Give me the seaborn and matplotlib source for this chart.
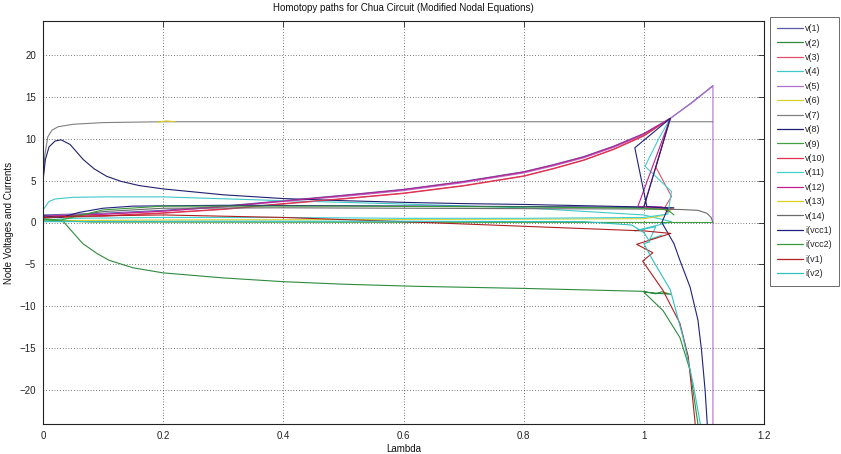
import numpy as np
import pandas as pd
import matplotlib
matplotlib.use("Agg")
import matplotlib.pyplot as plt
import seaborn as sns

# ---------------- data ----------------
series_names = ["v(1)", "v(2)", "v(3)", "v(4)", "v(5)", "v(6)", "v(7)", "v(8)", "v(9)",
                "v(10)", "v(11)", "v(12)", "v(13)", "v(14)", "i(vcc1)", "i(vcc2)", "i(v1)", "i(v2)"]
series_colors = ["#5a5aa8", "#2e8b3e", "#e0506a", "#40c8c8", "#b070d0", "#d8d030", "#808080",
                 "#202070", "#40a040", "#e03050", "#40d0d0", "#c02090", "#e0d020", "#6a6a6a",
                 "#202080", "#3a9a3a", "#b02020", "#30c0c0"]

v1_lam = [0, 0.1, 0.2, 0.3, 0.4, 0.5, 0.6, 0.7, 0.8, 0.85, 0.9, 0.95, 1.0, 1.044, 1.08, 1.115]
v1_val = [0.9, 1.1, 1.45, 1.95, 2.6, 3.25, 3.95, 4.9, 6.05, 6.9, 7.85, 9.1, 10.6, 12.4, 14.3, 16.3]

v2_lam = [0, 0.02, 0.034, 0.05, 0.066, 0.09, 0.11, 0.15, 0.2, 0.3, 0.4, 0.5, 0.62, 0.8, 1.0,
          1.02, 1.03, 1.045, 1.0, 1.032, 1.06, 1.077, 1.09, 1.093]
v2_val = [0.3, 0.2, 0.1, -1.2, -2.5, -3.7, -4.5, -5.4, -6.0, -6.6, -7.05, -7.35, -7.6, -7.85, -8.2,
          -8.5, -8.25, -8.55, -8.3, -10.5, -13.7, -17.6, -24, -27]

v3_lam = [0, 0.1, 0.2, 0.3, 0.4, 0.5, 0.6, 0.7, 0.8, 0.85, 0.9, 0.95, 1.0, 1.044, 1.02, 1.046, 1.035, 1.05]
v3_val = [0.55, 0.75, 1.1, 1.55, 2.2, 2.8, 3.45, 4.35, 5.5, 6.4, 7.4, 8.7, 10.3, 12.4, 6.6, 3.1, 1.8, 1.6]

v4_lam = [0, 0.01, 0.02, 0.05, 0.1, 0.2, 0.4, 0.6, 0.8, 1.0, 1.046, 0.985, 1.02, 1.01, 1.03]
v4_val = [1.5, 2.5, 2.8, 3.0, 3.05, 3.05, 2.6, 2.2, 1.75, 0.9, 0.1, -1.0, -0.5, -2.0, -1.5]

v5_lam = [0, 0.1, 0.2, 0.3, 0.4, 0.5, 0.6, 0.7, 0.8, 0.85, 0.9, 0.95, 1.0, 1.044, 1.08, 1.115, 1.115]
v5_val = [0.8, 1.0, 1.35, 1.85, 2.5, 3.1, 3.8, 4.75, 5.9, 6.75, 7.7, 8.95, 10.45, 12.4, 14.25, 16.25, -30]

v6_lam = [0, 0.2, 0.5, 0.8, 1.0, 1.03, 1.045, 1.03]
v6_val = [0.2, 0.3, 0.35, 0.4, 0.45, 0.8, 1.4, 1.6]

v7_lam = [0, 0.003, 0.008, 0.015, 0.025, 0.05, 0.1, 0.2, 1.115]
v7_val = [5.0, 8.0, 10.2, 11.0, 11.4, 11.7, 11.9, 12.0, 12.0]

v8_lam = [0, 0.004, 0.01, 0.02, 0.03, 0.045, 0.067, 0.085, 0.106, 0.13, 0.16, 0.2, 0.3, 0.4, 0.5,
          0.6, 0.7, 0.8, 0.9, 1.0, 1.03, 1.05]
v8_val = [5.0, 7.5, 9.0, 9.7, 9.85, 9.3, 7.5, 6.4, 5.5, 4.9, 4.4, 4.0, 3.3, 2.85, 2.6,
          2.4, 2.25, 2.15, 2.0, 1.85, 1.8, 1.75]

v9_lam = [0, 0.03, 0.08, 1.115]
v9_val = [0.3, 0.2, 0.05, 0.0]

v10_lam = [0, 0.1, 0.2, 0.3, 0.4, 0.5, 0.6, 0.7, 0.8, 0.85, 0.9, 0.95, 1.0, 1.044, 1.0, 1.012, 1.04]
v10_val = [0.6, 0.8, 1.15, 1.6, 2.25, 2.85, 3.5, 4.4, 5.55, 6.45, 7.45, 8.75, 10.35, 12.4, 1.9, 1.7, 1.7]

v11_lam = [0, 0.05, 0.2, 0.4, 0.6, 0.8, 1.0, 1.04, 1.046, 1.002, 1.025, 1.044]
v11_val = [0.3, 0.5, 0.6, 0.6, 0.5, 0.5, 0.6, 1.0, 3.7, 6.7, 10.0, 12.4]

v12_lam = [0, 0.1, 0.2, 0.3, 0.4, 0.5, 0.6, 0.7, 0.8, 0.85, 0.9, 0.95, 1.0, 1.044, 0.99, 1.03, 1.04]
v12_val = [0.75, 0.98, 1.35, 1.9, 2.55, 3.2, 3.9, 4.85, 6.0, 6.85, 7.8, 9.05, 10.55, 12.4, 1.9, 1.85, 1.3]

v13_lam = [0.19, 0.205, 0.22]
v13_val = [11.95, 12.1, 12.0]

v14_lam = [0, 0.05, 0.1, 0.2, 0.4, 0.6, 0.8, 1.0, 1.06, 1.09, 1.105, 1.112, 1.115]
v14_val = [0.5, 0.8, 1.3, 1.7, 1.75, 1.7, 1.65, 1.6, 1.55, 1.45, 1.1, 0.6, 0.0]

ivcc1_lam = [0, 0.03, 0.06, 0.1, 0.15, 0.3, 0.5, 0.8, 1.0, 1.044, 0.985, 1.005, 1.04, 1.03, 1.05,
             1.06, 1.077, 1.09, 1.096, 1.102, 1.106, 1.108]
ivcc1_val = [0.8, 0.6, 1.2, 1.7, 1.95, 2.05, 2.0, 1.9, 1.8, 12.4, 8.9, 1.9, 1.7, 0.0, -2.5,
             -4.5, -7.7, -11.6, -15.2, -20, -24.5, -27]

ivcc2_lam = [0, 0.03, 0.1, 0.2, 0.5, 0.8, 1.0, 1.04, 1.05]
ivcc2_val = [0.4, 0.3, 1.5, 1.95, 1.95, 1.85, 1.7, 1.5, 0.9]

iv1_lam = [0, 0.05, 0.2, 0.4, 0.6, 0.8, 1.0, 1.045, 0.988, 1.015, 0.998, 1.032, 1.06, 1.074, 1.085, 1.088]
iv1_val = [0.6, 0.75, 0.9, 0.6, 0.1, -0.45, -1.0, -1.3, -2.6, -3.6, -4.6, -8.1, -12.0, -16.0, -23.6, -27]

iv2_lam = [0, 0.3, 0.6, 0.9, 0.98, 1.0, 1.01, 1.0, 1.015, 1.044, 1.065, 1.082, 1.094, 1.097]
iv2_val = [0.1, 0.15, 0.15, 0.1, -0.3, -1.2, -2.3, -2.5, -4.5, -8.0, -13.6, -19.2, -24, -27]

x_ticks = [0, 0.2, 0.4, 0.6, 0.8, 1.0, 1.2]
x_tick_labels = ["0", "0.2", "0.4", "0.6", "0.8", "1", "1.2"]
y_ticks = [-20, -15, -10, -5, 0, 5, 10, 15, 20]

all_lams = [v1_lam, v2_lam, v3_lam, v4_lam, v5_lam, v6_lam, v7_lam, v8_lam, v9_lam, v10_lam,
            v11_lam, v12_lam, v13_lam, v14_lam, ivcc1_lam, ivcc2_lam, iv1_lam, iv2_lam]
all_vals = [v1_val, v2_val, v3_val, v4_val, v5_val, v6_val, v7_val, v8_val, v9_val, v10_val,
            v11_val, v12_val, v13_val, v14_val, ivcc1_val, ivcc2_val, iv1_val, iv2_val]

frames = []
for name, lam, val in zip(series_names, all_lams, all_vals):
    frames.append(pd.DataFrame({"lam": lam, "val": val, "series": name}))
df = pd.concat(frames, ignore_index=True)

# ---------------- plotting ----------------
sns.set_theme(style="white")
plt.rcParams["font.family"] = ["Liberation Sans", "DejaVu Sans"]

fig = plt.figure(figsize=(8.41, 4.54), dpi=100)
fig.patch.set_facecolor("white")
ax = fig.add_axes([43 / 841, 30 / 454, 721 / 841, 403 / 454])

sns.lineplot(data=df, x="lam", y="val", hue="series", hue_order=series_names,
             palette=dict(zip(series_names, series_colors)), sort=False, estimator=None,
             linewidth=0.8, legend=False, ax=ax)

ax.set_xlim(0, 1.2)
ax.set_ylim(-24, 24)
ax.set_xticks(x_ticks)
ax.set_xticklabels(x_tick_labels)
ax.set_yticks(y_ticks)
ax.grid(True, color="black", linestyle=(0, (1, 3)), linewidth=0.5)
ax.tick_params(direction="in", length=4, width=0.6, top=True, right=True,
               labelsize=7, colors="#222222", pad=5)
for s in ax.spines.values():
    s.set_color("#222222")
    s.set_linewidth(0.8)

ax.set_title("Homotopy paths for Chua Circuit (Modified Nodal Equations)", fontsize=7, pad=7,
             color="#111111")
ax.set_xlabel("Lambda", fontsize=7, labelpad=2, color="#111111")
ax.set_ylabel("Node Voltages and Currents", fontsize=7, labelpad=4, color="#111111")

leg = ax.legend(ax.lines[:len(series_names)], series_names, loc="upper left",
                bbox_to_anchor=(770 / 841, 1 - 17 / 454), bbox_transform=fig.transFigure,
                fontsize=6.5, frameon=True, fancybox=False, edgecolor="#444444",
                handlelength=2.8, handletextpad=0.3, labelspacing=0.6, borderpad=0.8,
                borderaxespad=0.0)
leg.get_frame().set_linewidth(0.7)
for line in leg.get_lines():
    line.set_linewidth(0.9)

fig.savefig("out.png", dpi=100, facecolor="white")
